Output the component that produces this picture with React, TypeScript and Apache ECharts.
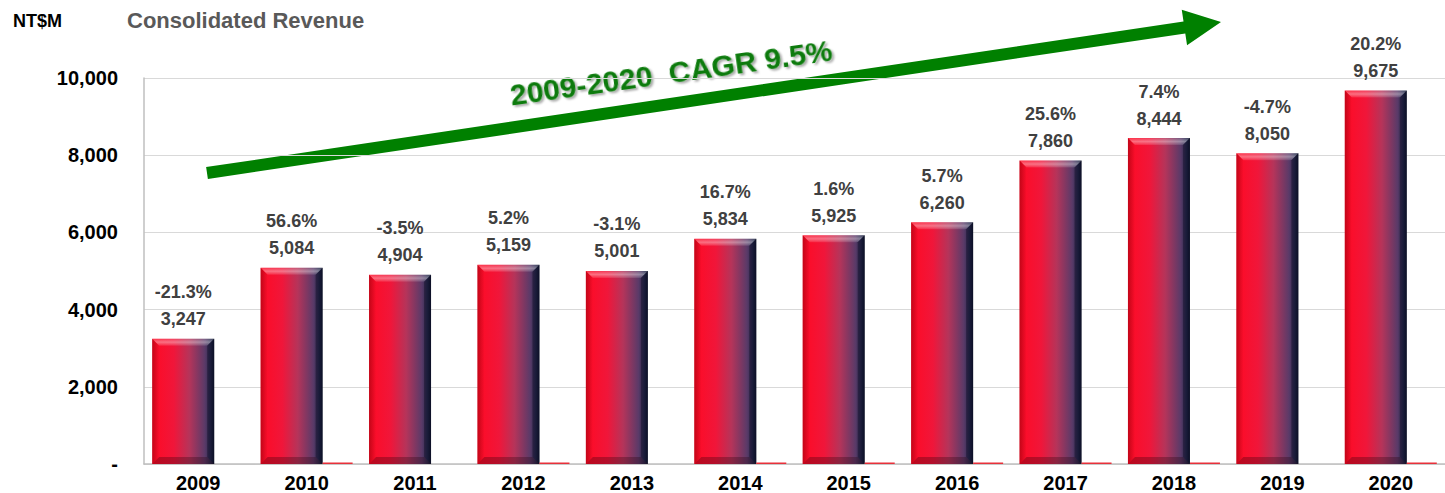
import React, { useEffect, useRef } from 'react';
import * as echarts from 'echarts';

const years = ['2009', '2010', '2011', '2012', '2013', '2014', '2015', '2016', '2017', '2018', '2019', '2020'];
const revenue = [3247, 5084, 4904, 5159, 5001, 5834, 5925, 6260, 7860, 8444, 8050, 9675];
const growthPct = [-21.3, 56.6, -3.5, 5.2, -3.1, 16.7, 1.6, 5.7, 25.6, 7.4, -4.7, 20.2];
const yMin = 0;
const yMax = 10000;
const yStep = 2000;
const unitLabel = 'NT$M';
const titleText = 'Consolidated Revenue';
const cagrText = '2009-2020  CAGR 9.5%';

const FONT = '"Liberation Sans", Arial, sans-serif';
const BAR_W = 62;
const LINE_W = 30;

function arrowPoints() {
  const sx = 207, sy = 173;
  const tx = 1221, ty = 22;
  const dx = tx - sx, dy = ty - sy;
  const len = Math.sqrt(dx * dx + dy * dy);
  const ux = dx / len, uy = dy / len;
  const px = -uy, py = ux;
  const hw = 6, headW = 18, headL = 37;
  const bx = tx - ux * headL, by = ty - uy * headL;
  return [
    [sx + px * hw, sy + py * hw],
    [bx + px * hw, by + py * hw],
    [bx + px * headW, by + py * headW],
    [tx, ty],
    [bx - px * headW, by - py * headW],
    [bx - px * hw, by - py * hw],
    [sx - px * hw, sy - py * hw],
  ];
}

export default function App() {
  const ref = useRef<HTMLDivElement>(null);
  useEffect(() => {
    if (!ref.current) return;
    const chart = echarts.init(ref.current, null, { renderer: 'svg' });
    const barGrad = new echarts.graphic.LinearGradient(0, 0, 1, 0, [
      { offset: 0, color: '#ff0a24' },
      { offset: 0.35, color: '#f0163a' },
      { offset: 0.6, color: '#b5345a' },
      { offset: 0.85, color: '#5a3a68' },
      { offset: 0.94, color: '#2a2c50' },
      { offset: 1, color: '#121830' },
    ]);
    const bevelItem = (params: any, api: any) => {
      const i = api.value(0);
      const v = api.value(1);
      const top = api.coord([i, v]);
      const base = api.coord([i, 0]);
      const cx = top[0];
      const L = cx - (BAR_W + LINE_W) / 2;
      const R = L + BAR_W;
      const T = top[1];
      const B = base[1];
      const b = 7;
      return {
        type: 'group',
        children: [
          {
            type: 'polygon',
            shape: { points: [[L, T], [R, T], [R - b, T + b], [L + b, T + b]] },
            style: {
              fill: new echarts.graphic.LinearGradient(0, 0, 0, 1, [
                { offset: 0, color: 'rgba(255,255,255,0.15)' },
                { offset: 0.5, color: 'rgba(255,255,255,0.4)' },
                { offset: 1, color: 'rgba(255,255,255,0.1)' },
              ]),
            },
          },
          {
            type: 'polygon',
            shape: { points: [[L, T], [L + b, T + b], [L + b, B - b], [L, B]] },
            style: {
              fill: new echarts.graphic.LinearGradient(0, 0, 1, 0, [
                { offset: 0, color: 'rgba(120,0,10,0.45)' },
                { offset: 1, color: 'rgba(120,0,10,0)' },
              ]),
            },
          },
          {
            type: 'polygon',
            shape: { points: [[R, T], [R, B], [R - b, B - b], [R - b, T + b]] },
            style: { fill: 'rgba(0,0,20,0.35)' },
          },
          {
            type: 'polygon',
            shape: { points: [[L, B], [L + b, B - b], [R - b, B - b], [R, B]] },
            style: { fill: 'rgba(40,0,10,0.3)' },
          },
        ],
      };
    };
    chart.setOption({
      animation: false,
      grid: { left: 144, top: 78, width: 1314, height: 387 },
      xAxis: {
        type: 'category',
        data: years,
        axisLine: { show: true, lineStyle: { color: '#bfbfbf', width: 1.5 } },
        axisTick: { show: false },
        axisLabel: {
          color: '#000',
          fontWeight: 'bold',
          fontSize: 20,
          fontFamily: FONT,
          margin: 9,
        },
      },
      yAxis: {
        type: 'value',
        min: yMin,
        max: yMax,
        interval: yStep,
        axisLine: { show: true, lineStyle: { color: '#bfbfbf', width: 1.5 } },
        axisTick: { show: false },
        splitLine: { lineStyle: { color: '#d9d9d9', width: 1 } },
        axisLabel: {
          color: '#000',
          fontWeight: 'bold',
          fontSize: 20,
          fontFamily: FONT,
          margin: 26,
          formatter: (v: number) => (v === 0 ? '-' : v.toLocaleString('en-US')),
        },
      },
      series: [
        {
          type: 'bar',
          data: revenue,
          barWidth: BAR_W,
          barGap: '0%',
          itemStyle: { color: barGrad },
          label: {
            show: true,
            position: 'top',
            distance: 6,
            fontFamily: FONT,
            formatter: (p: any) => {
              const g = growthPct[p.dataIndex];
              return `{p|${g.toFixed(1)}%}\n{v|${revenue[p.dataIndex].toLocaleString('en-US')}}`;
            },
            rich: {
              p: { fontSize: 18, fontWeight: 'bold', color: '#404040', lineHeight: 27, fontFamily: FONT },
              v: { fontSize: 18, fontWeight: 'bold', color: '#404040', lineHeight: 27, fontFamily: FONT },
            },
          },
        },
        {
          type: 'bar',
          data: growthPct.map((g) => g / 100),
          barWidth: LINE_W,
          barMinHeight: 1.5,
          silent: true,
          z: 5,
          itemStyle: { color: '#e8303a' },
        },
        {
          type: 'custom',
          silent: true,
          z: 4,
          data: revenue.map((v, i) => [i, v]),
          encode: { x: 0, y: 1 },
          renderItem: bevelItem,
        },
      ],
      graphic: [
        {
          type: 'text',
          left: 13,
          top: 12,
          style: { text: unitLabel, fill: '#000', font: `bold 18px ${FONT}` },
        },
        {
          type: 'text',
          left: 127,
          top: 9,
          style: { text: titleText, fill: '#595959', font: `bold 22px ${FONT}` },
        },
        {
          type: 'polygon',
          shape: { points: arrowPoints() },
          style: { fill: '#008000' },
        },
        {
          type: 'text',
          x: 671,
          y: 72,
          rotation: (8 * Math.PI) / 180,
          style: {
            text: cagrText,
            fill: '#087a08',
            font: `bold 30px ${FONT}`,
            align: 'center',
            verticalAlign: 'middle',
            textShadowColor: 'rgba(0,0,0,0.35)',
            textShadowBlur: 2,
            textShadowOffsetX: 2,
            textShadowOffsetY: 2,
          },
        },
      ],
    });
    return () => chart.dispose();
  }, []);
  return (
    <div
      ref={ref}
      style={{ position: 'absolute', left: 0, top: 0, width: 1445, height: 493, background: '#fff' }}
    />
  );
}
